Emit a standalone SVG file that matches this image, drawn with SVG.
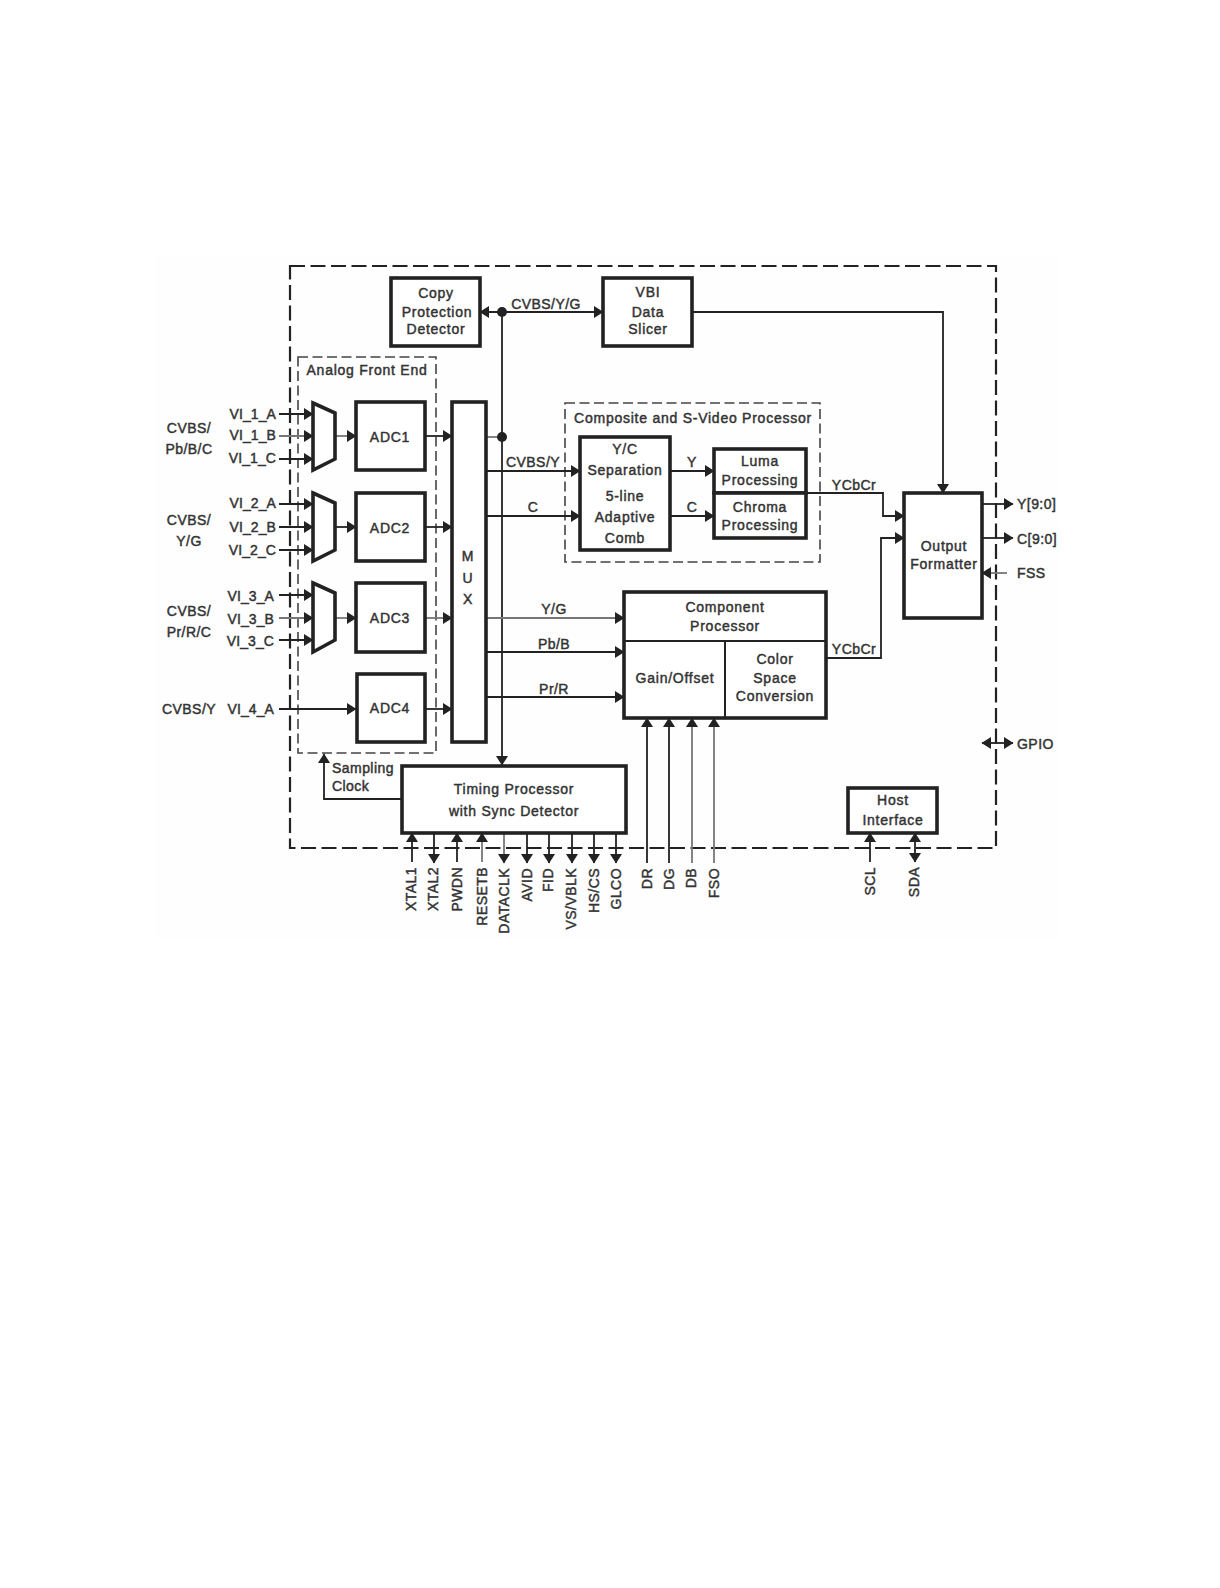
<svg xmlns="http://www.w3.org/2000/svg" width="1220" height="1588" viewBox="0 0 1220 1588">
<style>
text{font-family:"Liberation Sans",Arial,sans-serif;font-size:14px;font-weight:400;fill:#333;stroke:#333;stroke-width:.45px;letter-spacing:.75px}
#labels text{letter-spacing:.45px}
#labels text.v{letter-spacing:.1px}
.m{text-anchor:middle}.e{text-anchor:end}
.b{fill:#fff;stroke:#222;stroke-width:3.6}
.d{fill:none;stroke:#222;stroke-width:2}
.o{fill:none;stroke:#222;stroke-width:2.2;stroke-dasharray:15 5.5}
.i{fill:none;stroke:#444;stroke-width:1.6;stroke-dasharray:10 4.5}
.l{fill:none;stroke:#222;stroke-width:1.8}
.g{stroke:#777}
.a{marker-end:url(#ah)}
.s{marker-start:url(#ah)}
</style>
<defs>
<marker id="ah" markerUnits="userSpaceOnUse" markerWidth="12" markerHeight="14" refX="10" refY="7" orient="auto-start-reverse"><path d="M1,1 L10.5,7 L1,13 z" fill="#222"/></marker>
</defs>
<rect width="1220" height="1588" fill="#fff"/>
<rect x="155" y="255" width="905" height="685" fill="#fefefe"/>
<rect id="device-boundary" class="o" x="290" y="266" width="706" height="582"/>
<g id="analog-front-end"><rect class="i" x="298" y="357" width="138" height="396"/><text class="m" x="367" y="375">Analog Front End</text></g>
<g id="composite-processor"><rect class="i" x="565" y="403" width="255" height="159"/><text class="m" x="693" y="423">Composite and S-Video Processor</text></g>

<g id="connectors">
<path class="l a" d="M279,414H313"/><path class="l g a" d="M279,436H313"/><path class="l a" d="M279,459H313"/>
<path class="l a" d="M279,504H313"/><path class="l a" d="M279,527H313"/><path class="l a" d="M279,550H313"/>
<path class="l a" d="M279,595H313"/><path class="l g a" d="M279,618H313"/><path class="l a" d="M279,640H313"/>
<path class="l a" d="M279,709H356"/>
<path class="l g a" d="M335,436H356"/><path class="l a" d="M335,527H356"/><path class="l g a" d="M335,618H356"/>
<path class="l a" d="M425,436H452"/><path class="l a" d="M425,527H452"/><path class="l g a" d="M425,618H452"/><path class="l a" d="M425,709H452"/>
<path class="l s a" d="M480,312H603"/>
<path class="l a" d="M502,312V765"/>
<path class="l g" d="M486,437H502"/>
<circle cx="502" cy="312" r="5" fill="#222"/><circle cx="502" cy="437" r="5" fill="#222"/>
<path class="l a" d="M486,471H580"/><path class="l a" d="M486,516H580"/>
<path class="l a" d="M670,471H714"/><path class="l a" d="M670,516H714"/>
<path class="l g a" d="M486,618H624"/><path class="l a" d="M486,652H624"/><path class="l a" d="M486,697H624"/>
<path class="l a" d="M692,312H943V493"/>
<path class="l a" d="M806,493H883V516H904"/>
<path class="l a" d="M826,658H881V538H904"/>
<path class="l a" d="M982,504H1013"/><path class="l a" d="M982,538H1013"/>
<path class="l g a" d="M1007,573H982"/>
<path class="l s a" d="M982,743H1013"/>
<path class="l a" d="M402,799H324V754"/>
<path class="l a" d="M412,862V833"/><path class="l a" d="M434,833V863"/><path class="l a" d="M457,862V833"/><path class="l g a" d="M482,862V833"/>
<path class="l g a" d="M504,833V863"/><path class="l a" d="M527,833V863"/><path class="l a" d="M549,833V863"/><path class="l a" d="M572,833V863"/><path class="l a" d="M594,833V863"/><path class="l a" d="M616,833V863"/>
<path class="l a" d="M647,863V718"/><path class="l a" d="M669,863V718"/><path class="l g a" d="M692,863V718"/><path class="l g a" d="M714,863V718"/>
<path class="l a" d="M870,862V833"/><path class="l s a" d="M915,862V833"/>
</g>

<g id="copy-protection"><rect class="b" x="391" y="278" width="89" height="68"/><text class="m" x="436" y="298">Copy</text><text class="m" x="437" y="317">Protection</text><text class="m" x="436" y="334">Detector</text></g>
<g id="vbi-slicer"><rect class="b" x="603" y="278" width="89" height="68"/><text class="m" x="648" y="297">VBI</text><text class="m" x="648" y="317">Data</text><text class="m" x="648" y="334">Slicer</text></g>
<g id="mux1"><path class="b" d="M313,403L335,413V459L313,470z"/></g>
<g id="mux2"><path class="b" d="M313,493L335,503V550L313,561z"/></g>
<g id="mux3"><path class="b" d="M313,583L335,593V640L313,652z"/></g>
<g id="adc1"><rect class="b" x="356" y="402" width="69" height="68"/><text class="m" x="390" y="442">ADC1</text></g>
<g id="adc2"><rect class="b" x="356" y="493" width="69" height="68"/><text class="m" x="390" y="533">ADC2</text></g>
<g id="adc3"><rect class="b" x="356" y="583" width="69" height="69"/><text class="m" x="390" y="623">ADC3</text></g>
<g id="adc4"><rect class="b" x="357" y="674" width="68" height="68"/><text class="m" x="390" y="713">ADC4</text></g>
<g id="mux"><rect class="b" x="452" y="402" width="34" height="340"/><text class="m" x="468" y="561">M</text><text class="m" x="468" y="583">U</text><text class="m" x="468" y="604">X</text></g>
<g id="yc-separation"><rect class="b" x="580" y="437" width="90" height="113"/><text class="m" x="625" y="454">Y/C</text><text class="m" x="625" y="475">Separation</text><text class="m" x="625" y="501">5-line</text><text class="m" x="625" y="522">Adaptive</text><text class="m" x="625" y="543">Comb</text></g>
<g id="luma"><rect class="b" x="714" y="449" width="92" height="44"/><text class="m" x="760" y="466">Luma</text><text class="m" x="760" y="485">Processing</text></g>
<g id="chroma"><rect class="b" x="714" y="493" width="92" height="45"/><text class="m" x="760" y="512">Chroma</text><text class="m" x="760" y="530">Processing</text></g>
<g id="component"><rect class="b" x="624" y="592" width="202" height="126"/><path class="d" d="M624,641H826M725,641V718"/><text class="m" x="725" y="612">Component</text><text class="m" x="725" y="631">Processor</text><text class="m" x="675" y="683">Gain/Offset</text><text class="m" x="775" y="664">Color</text><text class="m" x="775" y="683">Space</text><text class="m" x="775" y="701">Conversion</text></g>
<g id="output-formatter"><rect class="b" x="904" y="493" width="78" height="125"/><text class="m" x="944" y="551">Output</text><text class="m" x="944" y="569">Formatter</text></g>
<g id="timing"><rect class="b" x="402" y="766" width="224" height="67"/><text class="m" x="514" y="794">Timing Processor</text><text class="m" x="514" y="816">with Sync Detector</text></g>
<g id="host"><rect class="b" x="848" y="788" width="89" height="45"/><text class="m" x="893" y="805">Host</text><text class="m" x="893" y="825">Interface</text></g>

<g id="labels">
<text class="e v" x="276" y="419">VI_1_A</text><text class="e v" x="276" y="440">VI_1_B</text><text class="e v" x="276" y="463">VI_1_C</text>
<text class="e v" x="276" y="508">VI_2_A</text><text class="e v" x="276" y="532">VI_2_B</text><text class="e v" x="276" y="555">VI_2_C</text>
<text class="e v" x="274" y="601">VI_3_A</text><text class="e v" x="274" y="624">VI_3_B</text><text class="e v" x="274" y="646">VI_3_C</text>
<text class="e v" x="274" y="714">VI_4_A</text>
<text class="m" x="189" y="433">CVBS/</text><text class="m" x="189" y="454">Pb/B/C</text>
<text class="m" x="189" y="525">CVBS/</text><text class="m" x="189" y="546">Y/G</text>
<text class="m" x="189" y="616">CVBS/</text><text class="m" x="189" y="637">Pr/R/C</text>
<text class="m" x="189" y="714">CVBS/Y</text>
<text x="332" y="773">Sampling</text><text x="332" y="791">Clock</text>
<text class="m" x="546" y="309">CVBS/Y/G</text>
<text class="m" x="533" y="467">CVBS/Y</text><text class="m" x="533" y="512">C</text>
<text class="m" x="692" y="467">Y</text><text class="m" x="692" y="512">C</text>
<text class="m" x="854" y="490">YCbCr</text><text class="m" x="854" y="654">YCbCr</text>
<text class="m" x="554" y="614">Y/G</text><text class="m" x="554" y="649">Pb/B</text><text class="m" x="554" y="694">Pr/R</text>
<text x="1017" y="509">Y[9:0]</text><text x="1017" y="544">C[9:0]</text><text x="1017" y="578">FSS</text><text x="1017" y="749">GPIO</text>
<text class="e" transform="translate(416,867) rotate(-90)">XTAL1</text>
<text class="e" transform="translate(438,867) rotate(-90)">XTAL2</text>
<text class="e" transform="translate(462,867) rotate(-90)">PWDN</text>
<text class="e" transform="translate(487,867) rotate(-90)">RESETB</text>
<text class="e" transform="translate(509,868) rotate(-90)">DATACLK</text>
<text class="e" transform="translate(532,868) rotate(-90)">AVID</text>
<text class="e" transform="translate(553,868) rotate(-90)">FID</text>
<text class="e" transform="translate(576,868) rotate(-90)">VS/VBLK</text>
<text class="e" transform="translate(599,868) rotate(-90)">HS/CS</text>
<text class="e" transform="translate(621,868) rotate(-90)">GLCO</text>
<text class="e" transform="translate(652,868) rotate(-90)">DR</text>
<text class="e" transform="translate(674,868) rotate(-90)">DG</text>
<text class="e" transform="translate(696,868) rotate(-90)">DB</text>
<text class="e" transform="translate(719,868) rotate(-90)">FSO</text>
<text class="e" transform="translate(875,867) rotate(-90)">SCL</text>
<text class="e" transform="translate(919,867) rotate(-90)">SDA</text>
</g>
</svg>
